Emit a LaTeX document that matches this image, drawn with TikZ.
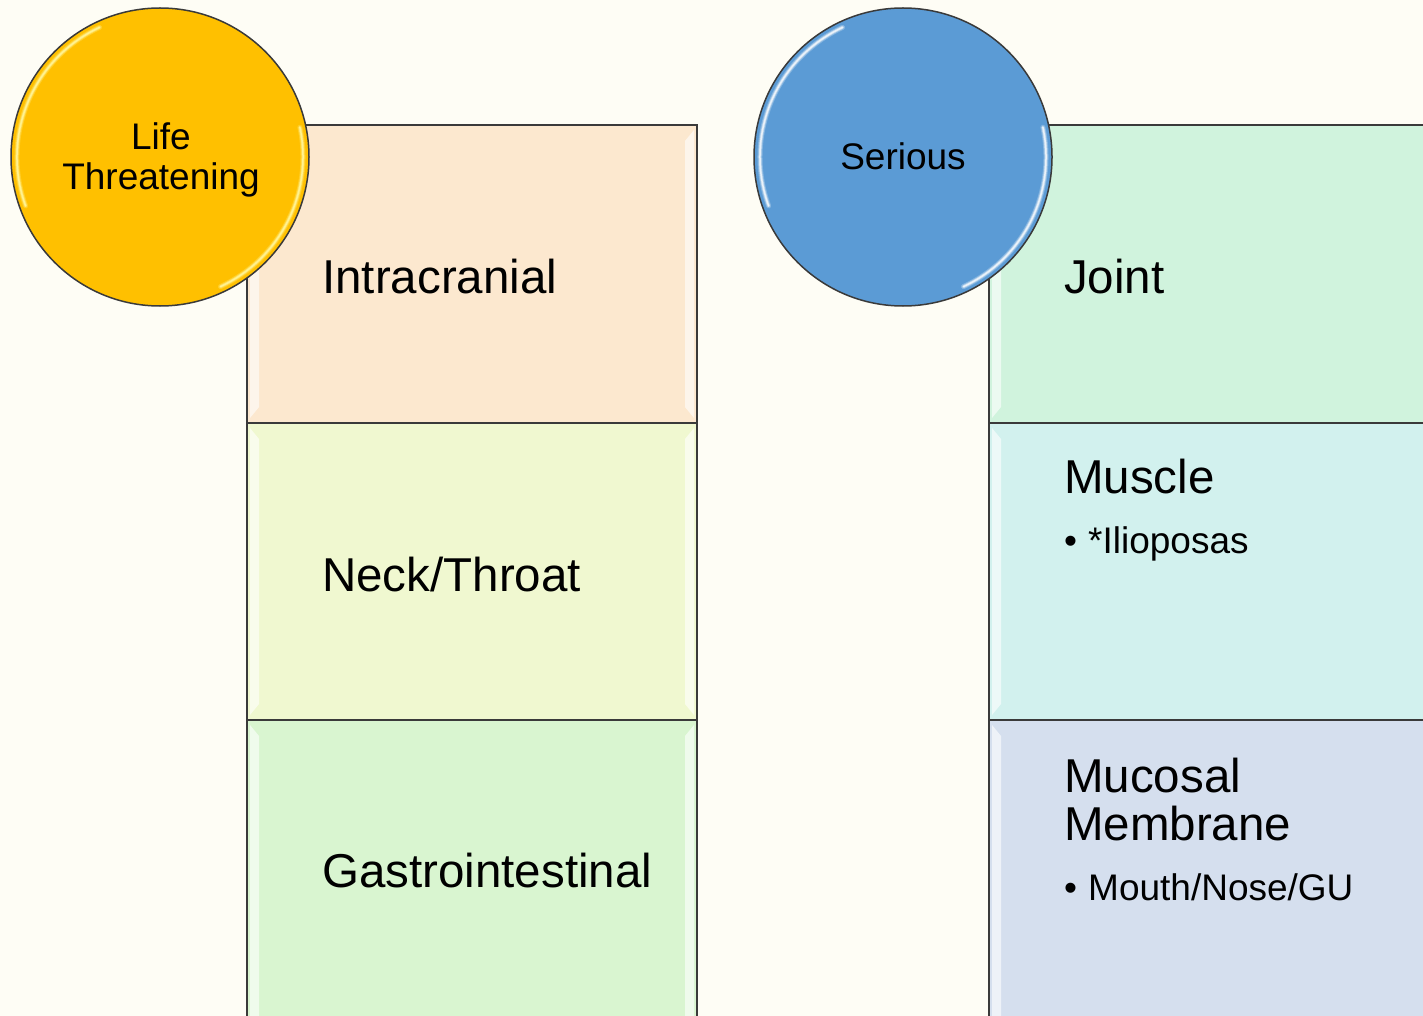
\documentclass[tikz,border=0pt]{standalone}
\usepackage{fontspec}
\setmainfont{Liberation Sans}
\definecolor{bgcream}{RGB}{254,253,245}
\definecolor{edge}{RGB}{58,58,58}
\definecolor{goldfill}{RGB}{255,192,0}
\definecolor{bluefill}{RGB}{91,155,213}
\definecolor{peach}{RGB}{252,232,207}
\definecolor{lime}{RGB}{240,248,208}
\definecolor{mint}{RGB}{217,245,208}
\definecolor{seafoam}{RGB}{208,243,221}
\definecolor{aqua}{RGB}{210,241,238}
\definecolor{lavender}{RGB}{213,223,238}
\tikzset{
  panel/.style={draw=edge, line width=1.8pt},
  badge/.style={circle, draw=edge, line width=1.5pt, minimum size=298pt, inner sep=0pt},
  headtext/.style={anchor=base west, inner sep=0pt, font=\fontsize{47.5}{48}\selectfont},
  itemtext/.style={anchor=base west, inner sep=0pt, font=\fontsize{37}{40}\selectfont},
  badgetext/.style={align=center, inner sep=0pt, font=\fontsize{37}{40}\selectfont},
  gloss/.style={fill=white, opacity=0.6, draw=none},
}
% white bevel strips inside the left and right edges of a panel
\newcommand{\panelgloss}[4]{% x-left, y-top, x-right, y-bottom
  \fill[gloss] (#1+3,#2+5) -- (#1+12,#2+16) -- (#1+12,#4-16) -- (#1+3,#4-5) -- cycle;
  \fill[gloss] (#3-3,#2+5) -- (#3-12,#2+16) -- (#3-12,#4-16) -- (#3-3,#4-5) -- cycle;
}
% soft rim reflections on a badge
\newcommand{\badgerim}[3]{% centre x, centre y, colour
  \foreach \w/\o in {5/0.25, 3/0.45, 1.5/0.7} {
    \draw[#3, line width=\w pt, opacity=\o, line cap=round]
      ([shift={(115:143pt)}]#1,#2) arc[start angle=115, end angle=200, radius=143pt];
    \draw[#3, line width=\w pt, opacity=\o, line cap=round]
      ([shift={(-65:143pt)}]#1,#2) arc[start angle=-65, end angle=12, radius=143pt];
  }
}
\begin{document}
\begin{tikzpicture}[x=1pt, y=-1pt]
  \useasboundingbox (0,0) rectangle (1423,1016);
  \clip (0,0) rectangle (1423,1016);
  \fill[bgcream] (0,0) rectangle (1423,1016);

  % left column panels
  \filldraw[panel, fill=peach] (247,125) rectangle (697,423);
  \filldraw[panel, fill=lime]  (247,423) rectangle (697,720);
  \filldraw[panel, fill=mint]  (247,720) rectangle (697,1030);
  \panelgloss{247}{125}{697}{423}
  \panelgloss{247}{423}{697}{720}
  \panelgloss{247}{720}{697}{1040}

  % right column panels
  \filldraw[panel, fill=seafoam]  (989,125) rectangle (1440,423);
  \filldraw[panel, fill=aqua]     (989,423) rectangle (1440,720);
  \filldraw[panel, fill=lavender] (989,720) rectangle (1440,1030);
  \panelgloss{989}{125}{1460}{423}
  \panelgloss{989}{423}{1460}{720}
  \panelgloss{989}{720}{1460}{1040}

  % panel labels
  \node[headtext] (intra) at (322,293) {Intracranial};
  \node[headtext] (neck)  at (322,591) {Neck/Throat};
  \node[headtext] (gi)    at (322,887) {Gastrointestinal};
  \node[headtext] (joint) at (1064,293) {Joint};
  \node[headtext] (muscle) at (1064,493) {Muscle};
  \node[itemtext] (ilio)  at (1064,553) {\makebox[24pt][l]{•}*Ilioposas};
  \node[headtext] (mucA)  at (1064,792) {Mucosal};
  \node[headtext] (mucB)  at (1064,840) {Membrane};
  \node[itemtext] (mouth) at (1064,900) {\makebox[24pt][l]{•}Mouth/Nose/GU};

  % category badges
  \node[badge, fill=goldfill] (life) at (160,157) {};
  \badgerim{160}{157}{yellow!35!white}
  \node[badgetext] (lifetxt) at (161,160) {Life\\Threatening};

  \node[badge, fill=bluefill] (serious) at (903,157) {};
  \badgerim{903}{157}{white}
  \node[badgetext] (sertxt) at (903,156) {Serious};
\end{tikzpicture}
\end{document}
